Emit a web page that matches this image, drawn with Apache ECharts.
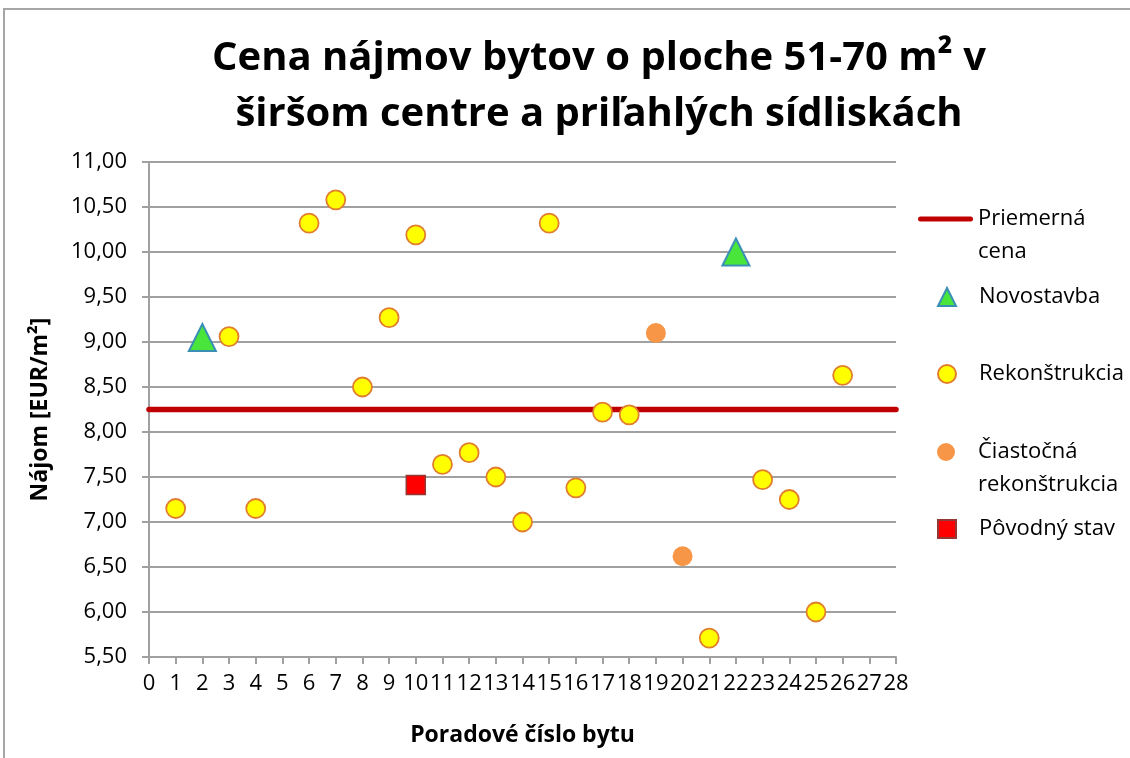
<!DOCTYPE html>
<html>
<head>
<meta charset="utf-8">
<script src="https://cdn.jsdelivr.net/npm/echarts@6/dist/echarts.min.js"></script>
<style>
  html, body { margin: 0; padding: 0; background: #ffffff; }
  #chart { width: 1130px; height: 758px; }
</style>
</head>
<body>
<div id="chart"></div>
<script>
// Texts
const titleText = 'Cena nájmov bytov o ploche 51-70 m² v\nširšom centre a priľahlých sídliskách';
const xAxisName = 'Poradové číslo bytu';
const yAxisName = 'Nájom [EUR/m²]';

// Axis ranges
const xMin = 0, xMax = 28, xStep = 1;
const yMin = 5.5, yMax = 11, yStep = 0.5;

// Series names
const nameAverage = 'Priemerná cena';
const nameNew = 'Novostavba';
const nameRenovated = 'Rekonštrukcia';
const namePartial = 'Čiastočná rekonštrukcia';
const nameOriginal = 'Pôvodný stav';

// Average rent [EUR/m2]
const averagePrice = 8.25;

// Apartment number (x) and rent (y) per condition
const newX = [2, 22];
const newY = [9.05, 10.00];

const renovatedX = [1, 3, 4, 6, 7, 8, 9, 10, 11, 12, 13, 14, 15, 16, 17, 18, 21, 23, 24, 25, 26];
const renovatedY = [7.15, 9.06, 7.15, 10.32, 10.58, 8.50, 9.27, 10.19, 7.64, 7.77, 7.50, 7.00, 10.32, 7.38, 8.22, 8.19, 5.71, 7.47, 7.25, 6.00, 8.63];

const partialX = [19, 20];
const partialY = [9.10, 6.62];

const originalX = [10];
const originalY = [7.41];

const pairs = (xs, ys) => xs.map((x, i) => [x, ys[i]]);

const FONT = 'Open Sans';
const GRID_COLOR = '#a0a0a0';
const LEGEND_TEXT_X = 978;

// One legend block per entry, so each can sit on its own row.
// Two-line names start with an empty line, so the icon (centred on the
// text block) lines up with the first written line.
function legendEntry(name, centerY, iconX, iconW, iconH, icon) {
  const twoLine = (name === nameAverage || name === namePartial);
  const padLeft = LEGEND_TEXT_X - (iconX + iconW + 5);
  const item = icon ? { name: name, icon: icon } : { name: name };
  return {
    data: [item],
    orient: 'vertical',
    left: iconX,
    top: twoLine ? centerY - 49.5 : centerY - 16.5,
    padding: 0,
    itemWidth: iconW,
    itemHeight: iconH,
    selectedMode: false,
    formatter: n => twoLine ? '\n' + n.replace(' ', '\n') : n,
    textStyle: {
      fontFamily: FONT,
      fontSize: 22,
      color: '#000000',
      lineHeight: 33,
      padding: [0, 0, 0, padLeft]
    }
  };
}

const chart = echarts.init(document.getElementById('chart'), null, { renderer: 'canvas' });

chart.setOption({
  backgroundColor: '#ffffff',
  animation: false,
  title: {
    text: titleText,
    left: 599,
    top: 31,
    padding: 0,
    textAlign: 'center',
    textStyle: {
      fontFamily: FONT,
      fontSize: 40,
      fontWeight: 'bold',
      color: '#000000',
      lineHeight: 56
    }
  },
  graphic: [{
    type: 'rect',
    silent: true,
    shape: { x: 4, y: 9, width: 1300, height: 900 },
    style: { fill: 'none', stroke: '#a6a6a6', lineWidth: 2 }
  }],
  legend: [
    legendEntry(nameAverage, 219, 918, 55, 5, 'path://M2.5,0 L52.5,0 A2.5,2.5 0 0 1 52.5,5 L2.5,5 A2.5,2.5 0 0 1 2.5,0 Z'),
    legendEntry(nameNew, 297, 937, 18, 18),
    legendEntry(nameRenovated, 374, 937, 18, 18),
    legendEntry(namePartial, 452, 937, 18, 18),
    legendEntry(nameOriginal, 529, 937, 18, 18)
  ],
  grid: { left: 149, right: 234, top: 162, bottom: 101, containLabel: false },
  xAxis: {
    type: 'value',
    min: xMin, max: xMax, interval: xStep,
    name: xAxisName,
    nameLocation: 'middle',
    nameGap: 67,
    nameTextStyle: { fontFamily: FONT, fontSize: 23, fontWeight: 'bold', color: '#000000' },
    axisLine: { show: true, onZero: false, lineStyle: { color: GRID_COLOR, width: 2 } },
    axisTick: { show: true, length: 7, lineStyle: { color: GRID_COLOR, width: 2 } },
    axisLabel: { fontFamily: FONT, fontSize: 22, color: '#000000', margin: 16 },
    splitLine: { show: false }
  },
  yAxis: {
    type: 'value',
    min: yMin, max: yMax, interval: yStep,
    name: yAxisName,
    nameLocation: 'middle',
    nameGap: 97,
    nameRotate: 90,
    nameTextStyle: { fontFamily: FONT, fontSize: 23, fontWeight: 'bold', color: '#000000' },
    axisLine: { show: true, lineStyle: { color: GRID_COLOR, width: 2 } },
    axisTick: { show: true, length: 7, lineStyle: { color: GRID_COLOR, width: 2 } },
    axisLabel: {
      fontFamily: FONT, fontSize: 22, color: '#000000', margin: 22,
      formatter: v => v.toFixed(2).replace('.', ',')
    },
    splitLine: { show: true, lineStyle: { color: GRID_COLOR, width: 2 } }
  },
  series: [
    {
      name: nameAverage,
      type: 'line',
      data: [[xMin, averagePrice], [xMax, averagePrice]],
      symbol: 'none',
      z: 2,
      itemStyle: { color: '#c00000' },
      lineStyle: { color: '#c00000', width: 5.5, cap: 'round' }
    },
    {
      name: nameNew,
      type: 'scatter',
      data: pairs(newX, newY),
      symbol: 'triangle',
      symbolSize: 27,
      z: 4,
      itemStyle: { color: '#4ae53a', borderColor: '#3a8fb5', borderWidth: 2, opacity: 1 }
    },
    {
      name: nameRenovated,
      type: 'scatter',
      data: pairs(renovatedX, renovatedY),
      symbol: 'circle',
      symbolSize: 19,
      z: 4,
      itemStyle: { color: '#ffff00', borderColor: '#e07e2e', borderWidth: 1.8, opacity: 1 }
    },
    {
      name: namePartial,
      type: 'scatter',
      data: pairs(partialX, partialY),
      symbol: 'circle',
      symbolSize: 20,
      z: 4,
      itemStyle: { color: '#f79646', opacity: 1 }
    },
    {
      name: nameOriginal,
      type: 'scatter',
      data: pairs(originalX, originalY),
      symbol: 'rect',
      symbolSize: 19,
      z: 4,
      itemStyle: { color: '#ff0000', borderColor: '#953735', borderWidth: 1.5, opacity: 1 }
    }
  ]
});
</script>
</body>
</html>
